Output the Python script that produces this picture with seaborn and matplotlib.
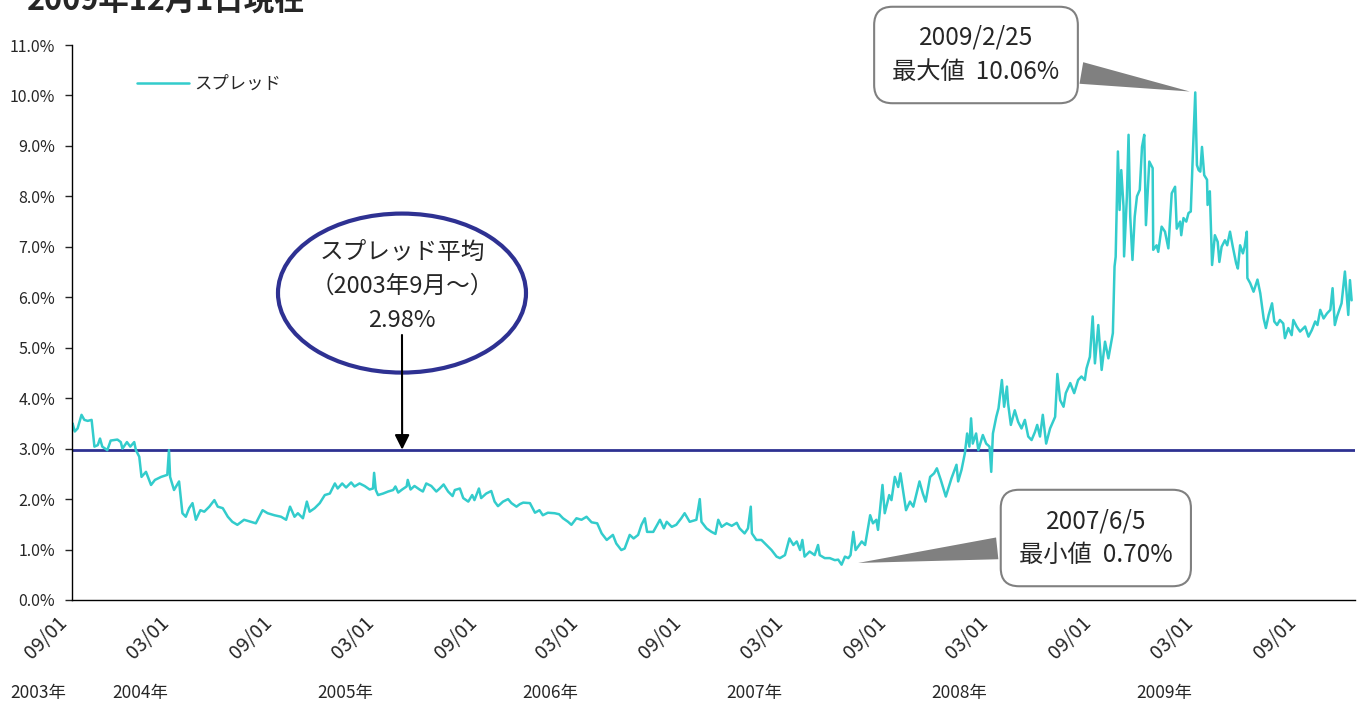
import matplotlib
matplotlib.use('Agg')
import matplotlib.pyplot as plt
import matplotlib.dates as mdates
from matplotlib.patches import Ellipse
from matplotlib.transforms import ScaledTranslation
import seaborn as sns
import pandas as pd

START = pd.Timestamp('2003-09-01')
END = START + pd.Timedelta(days=2289)

# days after 2003-09-01 and spread (%)
day_offsets = [
    0, 1, 5, 10, 17, 22, 28, 35, 40, 46, 50, 54, 63, 69, 81, 87, 90, 98, 104, 111,
    114, 120, 124, 132, 141, 148, 159, 170, 173, 175, 182, 191, 197, 203, 209, 215, 221, 229, 236, 245,
    254, 260, 269, 278, 286, 295, 307, 319, 328, 340, 349, 361, 373, 382, 389, 397,
    403, 412, 419, 424, 433, 442, 451, 460, 469, 474, 482, 489, 498, 504, 513, 522, 531, 537, 539, 542,
    546, 555, 564, 573, 577, 582, 589, 597, 599, 604, 611, 620, 626, 632, 641, 650, 656, 663, 671, 679,
    683, 692, 698, 707, 714, 718, 726, 730, 739, 748, 754, 760, 769, 778, 784, 793, 799,
    805, 817, 826, 834, 840, 849, 861, 869, 876, 885, 891, 900, 909, 918, 927, 937, 945, 954, 965, 971,
    980, 986, 995, 1002, 1010, 1016, 1022, 1026, 1037, 1049, 1056, 1061, 1070, 1078, 1087, 1093, 1102, 1114, 1120, 1123,
    1132, 1141, 1148, 1153, 1159, 1168, 1177, 1186, 1191,
    1200, 1206, 1211, 1213, 1221, 1230, 1239, 1248, 1257, 1263, 1272, 1280, 1287, 1293, 1299, 1303, 1307, 1316, 1325, 1331,
    1334, 1343, 1352, 1361, 1367, 1373, 1379, 1385, 1389, 1394, 1398, 1409, 1415, 1424, 1429, 1435, 1438, 1446, 1450, 1458,
    1462, 1468, 1474, 1478, 1483, 1488, 1495, 1501, 1512, 1518, 1523, 1531, 1538, 1543, 1550, 1559, 1569, 1578, 1581,
    1587, 1593, 1597, 1601, 1604, 1607, 1613, 1617, 1625, 1631, 1637, 1640, 1643, 1649, 1653, 1659, 1663, 1668, 1670, 1675,
    1682, 1688, 1694, 1700, 1706, 1712, 1718, 1722, 1727, 1732, 1738, 1745, 1754, 1758, 1763, 1769, 1773, 1781, 1788, 1795,
    1801, 1807, 1810, 1816, 1821, 1825, 1831, 1837, 1843, 1849, 1857, 1860, 1862, 1866, 1869, 1872, 1876, 1877, 1882, 1885,
    1888, 1892, 1896, 1900, 1905, 1909, 1913, 1916, 1922,
    1928, 1929, 1935, 1938, 1944, 1950, 1956, 1962, 1968, 1971, 1977, 1979, 1983, 1988, 1992, 1996, 2000, 2004, 2007, 2010,
    2013, 2016, 2020, 2025, 2026, 2030, 2034, 2039, 2044, 2047, 2051, 2057, 2061, 2066, 2071, 2077, 2080, 2084, 2089, 2092,
    2096, 2097, 2102, 2108, 2115, 2120, 2126, 2130, 2135, 2141, 2145, 2150, 2155, 2161, 2164, 2170, 2176, 2179, 2185, 2191,
    2200, 2206, 2212, 2218, 2222, 2227, 2233, 2239, 2245, 2249, 2253, 2257, 2265, 2271, 2277, 2280, 2283,
]
spread = [
    3.37, 3.50, 3.34, 3.40, 3.67, 3.57, 3.55, 3.57, 3.04, 3.07, 3.20, 3.04, 2.97, 3.16, 3.18, 3.13, 3.00, 3.13, 3.04, 3.13,
    2.97, 2.84, 2.44, 2.54, 2.28, 2.38, 2.44, 2.48, 2.97, 2.44, 2.18, 2.35, 1.72, 1.65, 1.82, 1.92, 1.59, 1.78, 1.75, 1.85,
    1.98, 1.85, 1.82, 1.65, 1.55, 1.49, 1.59, 1.55, 1.52, 1.78, 1.72, 1.68, 1.65, 1.59, 1.85, 1.65,
    1.72, 1.62, 1.95, 1.75, 1.82, 1.92, 2.08, 2.11, 2.31, 2.21, 2.31, 2.23, 2.33, 2.25, 2.31, 2.26, 2.19, 2.21, 2.52, 2.18,
    2.08, 2.11, 2.15, 2.18, 2.25, 2.13, 2.19, 2.25, 2.38, 2.19, 2.26, 2.19, 2.15, 2.31, 2.26, 2.15, 2.21, 2.29, 2.15, 2.06,
    2.18, 2.21, 2.02, 1.95, 2.08, 1.98, 2.21, 2.02, 2.11, 2.16, 1.95, 1.86, 1.95, 2.00, 1.92, 1.85, 1.90,
    1.93, 1.92, 1.73, 1.78, 1.68, 1.73, 1.72, 1.70, 1.62, 1.55, 1.49, 1.62, 1.59, 1.65, 1.54, 1.52, 1.32, 1.19, 1.29, 1.12,
    0.99, 1.02, 1.29, 1.22, 1.29, 1.49, 1.62, 1.35, 1.35, 1.59, 1.42, 1.55, 1.45, 1.49, 1.62, 1.72, 1.55, 1.59, 2.00, 1.55,
    1.42, 1.35, 1.31, 1.59, 1.45, 1.52, 1.47, 1.53, 1.42,
    1.32, 1.42, 1.85, 1.32, 1.19, 1.19, 1.09, 0.99, 0.86, 0.83, 0.89, 1.22, 1.09, 1.16, 0.99, 1.19, 0.86, 0.96, 0.89, 1.09,
    0.89, 0.83, 0.83, 0.79, 0.80, 0.70, 0.86, 0.83, 0.89, 1.35, 0.99, 1.16, 1.09, 1.68, 1.52, 1.59, 1.39, 2.28, 1.72, 2.08,
    1.98, 2.44, 2.24, 2.51, 2.14, 1.78, 1.95, 1.85, 2.35, 2.11, 1.95, 2.44, 2.51, 2.61, 2.38, 2.05, 2.41, 2.68, 2.35,
    2.58, 2.91, 3.30, 3.04, 3.60, 3.10, 3.30, 2.97, 3.27, 3.10, 3.04, 2.54, 3.30, 3.63, 3.80, 4.36, 3.83, 4.23, 3.90, 3.47,
    3.76, 3.53, 3.40, 3.57, 3.24, 3.17, 3.33, 3.47, 3.24, 3.67, 3.10, 3.40, 3.63, 4.48, 3.96, 3.83, 4.10, 4.30, 4.10, 4.36,
    4.43, 4.36, 4.59, 4.82, 5.62, 4.69, 5.45, 4.56, 5.12, 4.79, 5.29, 6.61, 6.80, 8.89, 7.73, 8.52, 7.80, 6.81, 7.99, 9.22,
    7.60, 6.74, 7.60, 8.00, 8.13, 8.98, 9.22, 7.43, 8.69,
    8.56, 6.94, 7.03, 6.90, 7.40, 7.30, 6.97, 8.06, 8.19, 7.36, 7.50, 7.23, 7.57, 7.50, 7.67, 7.70, 8.92, 10.06, 8.62, 8.52,
    8.49, 8.98, 8.42, 8.33, 7.83, 8.10, 6.64, 7.23, 7.10, 6.70, 7.00, 7.13, 7.03, 7.30, 7.00, 6.67, 6.57, 7.03, 6.87, 7.00,
    7.30, 6.38, 6.28, 6.11, 6.35, 6.08, 5.58, 5.39, 5.65, 5.88, 5.52, 5.45, 5.55, 5.48, 5.19, 5.39, 5.25, 5.55, 5.42, 5.32,
    5.42, 5.22, 5.35, 5.52, 5.45, 5.75, 5.58, 5.68, 5.75, 6.18, 5.45, 5.62, 5.88, 6.51, 5.65, 6.34, 5.94,
]

AVERAGE = 2.98
AVG_ARROW_DATE = '2005-04-12'
MAX_DATE, MAX_VALUE = '2009-02-25', 10.06
MIN_DATE, MIN_VALUE = '2007-06-05', 0.70

year_labels = ['2003年', '2004年', '2005年', '2006年', '2007年', '2008年', '2009年']
year_label_dates = ['2003-09-01', '2004-03-01', '2005-03-01', '2006-03-01',
                    '2007-03-01', '2008-03-01', '2009-03-01']

LINE_COLOR = '#33CCCC'
NAVY = '#2E3192'
GREY = '#808080'

sns.set_style('ticks')
plt.rcParams['font.family'] = ['Noto Sans CJK JP', 'DejaVu Sans']

df = pd.DataFrame({'date': START + pd.to_timedelta(day_offsets, unit='D'), 'spread': spread})

fig, ax = plt.subplots(figsize=(13.6, 7.04), dpi=100)
fig.subplots_adjust(left=72 / 1360, right=1355 / 1360, bottom=104 / 704, top=659 / 704)

sns.lineplot(data=df, x='date', y='spread', color=LINE_COLOR, lw=1.8,
             estimator=None, label='スプレッド', ax=ax)
ax.axhline(AVERAGE, color=NAVY, lw=2, zorder=1)

ax.set_xlim(START, END)
ax.set_ylim(0, 11)
ax.set_yticks(range(0, 12))
ax.yaxis.set_major_formatter(plt.FuncFormatter(lambda v, _: f'{v:.1f}%'))
ax.set_xticks(pd.date_range('2003-09-01', '2009-09-01', freq='6MS'))
ax.xaxis.set_major_formatter(mdates.DateFormatter('%m/%d'))
ax.tick_params(axis='x', length=0, pad=9, labelsize=14)
ax.tick_params(axis='y', length=5, width=1, direction='out', labelsize=11.5, pad=7)
shift = ScaledTranslation(-11 / 72, 0, fig.dpi_scale_trans)
for lab in ax.get_xticklabels():
    lab.set_rotation(45)
    lab.set_ha('right')
    lab.set_rotation_mode('anchor')
    lab.set_transform(lab.get_transform() + shift)
ax.set_xlabel('')
ax.set_ylabel('')
sns.despine(ax=ax)
for s in ('left', 'bottom'):
    ax.spines[s].set_color('black')
    ax.spines[s].set_linewidth(1)

ax.legend(loc='center left', bbox_to_anchor=(0.0507, 0.9297), frameon=False,
          borderpad=0, borderaxespad=0, handlelength=3.0, handletextpad=0.3, fontsize=12.5)

# year labels under the date ticks
for label, d in zip(year_labels, year_label_dates):
    ax.annotate(label, xy=(mdates.date2num(pd.Timestamp(d)), 0), xycoords=('data', 'axes fraction'),
                xytext=(-24, -67), textcoords='offset points', ha='center', va='center',
                fontsize=12.5, annotation_clip=False)

# average callout
ax.add_patch(Ellipse((0.2572, 0.553), 0.1933, 0.2865, transform=ax.transAxes,
                     fc='white', ec=NAVY, lw=3, zorder=5))
ax.text(0.2572, 0.565, 'スプレッド平均\n（2003年9月～）\n2.98%', transform=ax.transAxes,
        ha='center', va='center', fontsize=17, linespacing=1.6, zorder=6)
ax.annotate('', xy=(mdates.date2num(pd.Timestamp(AVG_ARROW_DATE)), AVERAGE),
            xytext=(0.2572, 0.4775), textcoords='axes fraction',
            arrowprops=dict(arrowstyle='-|>', color='black', lw=1.5, mutation_scale=22,
                            shrinkA=0, shrinkB=0), zorder=7)

# max / min callouts
ax.annotate('2009/2/25\n最大値  10.06%',
            xy=(mdates.date2num(pd.Timestamp(MAX_DATE)), MAX_VALUE),
            xytext=(0.7046, 0.982), textcoords='axes fraction', ha='center', va='center',
            fontsize=17.5, linespacing=1.4, annotation_clip=False, zorder=8,
            bbox=dict(boxstyle='round,pad=0.75', fc='white', ec=GREY, lw=1.5),
            arrowprops=dict(arrowstyle='wedge,tail_width=0.9,shrink_factor=0.5',
                            fc=GREY, ec='none', shrinkB=4))
ax.annotate('2007/6/5\n最小値  0.70%',
            xy=(mdates.date2num(pd.Timestamp(MIN_DATE)), MIN_VALUE),
            xytext=(0.798, 0.1117), textcoords='axes fraction', ha='center', va='center',
            fontsize=17.5, linespacing=1.4, annotation_clip=False, zorder=8,
            bbox=dict(boxstyle='round,pad=0.75', fc='white', ec=GREY, lw=1.5),
            arrowprops=dict(arrowstyle='wedge,tail_width=0.9,shrink_factor=0.5',
                            fc=GREY, ec='none', shrinkB=12))

fig.text(0.02, 1 - 10 / 704, '2009年12月1日現在', fontsize=22, fontweight='bold', va='baseline')

fig.savefig('out.png', dpi=100)
